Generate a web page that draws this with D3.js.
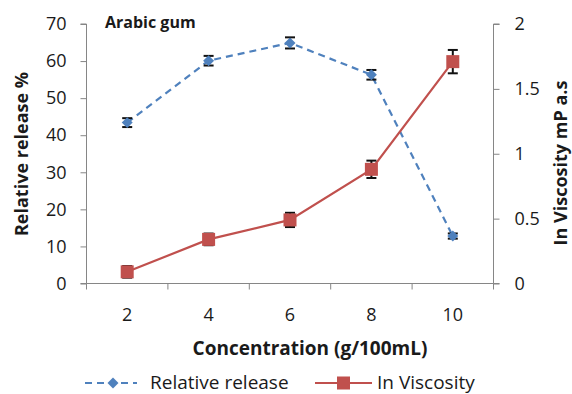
<!DOCTYPE html>
<html><head><meta charset="utf-8">
<script src="https://cdn.jsdelivr.net/npm/d3@7"></script>
<style>body{margin:0;background:#fff;} svg{display:block;font-family:"Open Sans",sans-serif;}</style>
</head><body>
<svg id="c" width="572" height="394"></svg>
<script>
const categories = ["2","4","6","8","10"];
const releaseValues = [43.4, 60.1, 64.9, 56.3, 12.8];
const releaseErrors = [1.2, 1.3, 1.5, 1.3, 0.7];
const viscosityValues = [0.09, 0.34, 0.49, 0.88, 1.71];
const viscosityErrors = [0.045, 0.045, 0.055, 0.067, 0.09];
const leftTicks = [0,10,20,30,40,50,60,70];
const rightTicks = [0,0.5,1,1.5,2];

const svg = d3.select("#c");
const L = 86.5, R = 493.5, T = 24, B = 283.5;
const x = d3.scaleBand().domain(categories).range([L, R]);
const yL = d3.scaleLinear().domain([0,70]).range([B, T]);
const yR = d3.scaleLinear().domain([0,2]).range([B, T]);
const axisCol = "#868686", blue = "#4F81BD", red = "#C0504D", txt = "#1a1a1a";
const cx = d => x(d) + x.bandwidth()/2;
const FF = "'Open Sans',sans-serif";

const gl = svg.append("g").attr("transform",`translate(${L},0)`)
  .call(d3.axisLeft(yL).tickValues(leftTicks).tickSize(6).tickPadding(14).tickFormat(d3.format("d")));
const gr = svg.append("g").attr("transform",`translate(${R},0)`)
  .call(d3.axisRight(yR).tickValues(rightTicks).tickSize(6).tickPadding(15).tickFormat(d => String(d)));
const gb = svg.append("g").attr("transform",`translate(0,${B})`)
  .call(d3.axisBottom(x).tickSize(0).tickPadding(25));
gb.selectAll(".tick").append("line")
  .attr("x1", -x.bandwidth()/2).attr("x2", -x.bandwidth()/2).attr("y1",0).attr("y2",6);
gb.append("line").attr("x1",R).attr("x2",R).attr("y1",0).attr("y2",6);
[gl,gr,gb].forEach(g=>{
  g.selectAll("path.domain").attr("stroke",axisCol);
  g.selectAll("line").attr("stroke",axisCol);
  g.selectAll("text").attr("fill",txt).style("font-size","18px").style("font-family",FF);
});
gl.selectAll("path.domain").attr("d",`M-6,${B}H0V${T}H-6`);
gr.selectAll("path.domain").attr("d",`M6,${B}H0V${T}H6`);
gb.selectAll("path.domain").attr("d",`M${L},0H${R}`);

svg.append("path").datum(categories.map((c,i)=>[cx(c), yL(releaseValues[i])]))
  .attr("d", d3.line()).attr("fill","none").attr("stroke",blue).attr("stroke-width",2.2)
  .attr("stroke-dasharray","7,5");
svg.append("path").datum(categories.map((c,i)=>[cx(c), yR(viscosityValues[i])]))
  .attr("d", d3.line()).attr("fill","none").attr("stroke",red).attr("stroke-width",2.2);

function errBars(vals, errs, scale){
  const g = svg.append("g").attr("stroke","#111").attr("stroke-width",2);
  categories.forEach((c,i)=>{
    const X = cx(c), y1 = scale(vals[i]+errs[i]), y2 = scale(vals[i]-errs[i]);
    g.append("line").attr("x1",X).attr("x2",X).attr("y1",y1).attr("y2",y2);
    g.append("line").attr("x1",X-5).attr("x2",X+5).attr("y1",y1).attr("y2",y1);
    g.append("line").attr("x1",X-5).attr("x2",X+5).attr("y1",y2).attr("y2",y2);
  });
}
errBars(releaseValues, releaseErrors, yL);
errBars(viscosityValues, viscosityErrors, yR);

const diamond = d3.symbol().type(d3.symbolSquare).size(60);
svg.append("g").selectAll("path").data(categories).join("path")
  .attr("transform",(c,i)=>`translate(${cx(c)},${yL(releaseValues[i])}) rotate(45)`)
  .attr("d", diamond).attr("fill",blue);
svg.append("g").selectAll("rect").data(categories).join("rect")
  .attr("x",c=>cx(c)-6.5).attr("y",(c,i)=>yR(viscosityValues[i])-6.5)
  .attr("width",13).attr("height",13).attr("fill",red);

svg.append("text").attr("x",105).attr("y",28).text("Arabic gum")
  .style("font-size","16px").style("font-weight","bold").attr("fill",txt);
svg.append("text").attr("transform","translate(28,154) rotate(-90)").attr("text-anchor","middle")
  .text("Relative release %").style("font-size","18px").style("font-weight","bold").attr("fill",txt);
svg.append("text").attr("transform","translate(567,163) rotate(-90)").attr("text-anchor","middle")
  .text("In Viscosity mP a.s").style("font-size","18px").style("font-weight","bold").attr("fill",txt);
svg.append("text").attr("x",310).attr("y",355).attr("text-anchor","middle")
  .text("Concentration (g/100mL)").style("font-size","19px").style("font-weight","bold").attr("fill",txt);

const lg = svg.append("g");
lg.append("line").attr("x1",85).attr("x2",137).attr("y1",383).attr("y2",383)
  .attr("stroke",blue).attr("stroke-width",2.2).attr("stroke-dasharray","7,5");
lg.append("path").attr("transform","translate(113,383) rotate(45)").attr("d",diamond).attr("fill",blue);
lg.append("text").attr("x",150).attr("y",389).text("Relative release").style("font-size","19px").attr("fill",txt);
lg.append("line").attr("x1",315).attr("x2",372).attr("y1",383).attr("y2",383)
  .attr("stroke",red).attr("stroke-width",2.2);
lg.append("rect").attr("x",337).attr("y",376.5).attr("width",13).attr("height",13).attr("fill",red);
lg.append("text").attr("x",377).attr("y",389).text("In Viscosity").style("font-size","19px").attr("fill",txt);
</script>
</body></html>
